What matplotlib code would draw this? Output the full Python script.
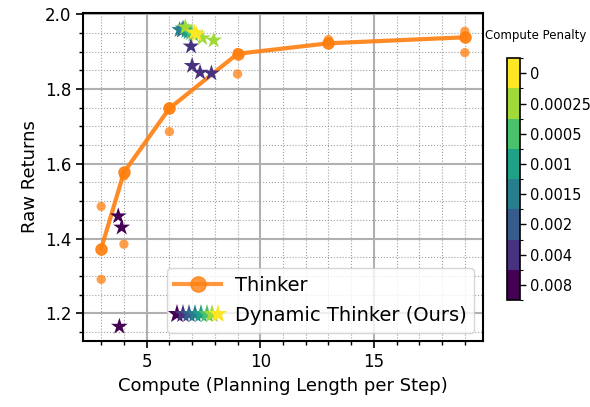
import matplotlib.pyplot as plt
import numpy as np
from matplotlib.colors import BoundaryNorm, ListedColormap
from matplotlib.lines import Line2D
from matplotlib.legend_handler import HandlerTuple
from matplotlib.ticker import MultipleLocator

# Thinker: mean curve over seeds, plus the individual seed runs
thinker_x = [3, 4, 6, 9, 13, 19]
thinker_mean = [1.373, 1.577, 1.748, 1.894, 1.922, 1.938]
seed_x = [3, 3, 4, 4, 6, 6, 9, 9, 13, 13, 19, 19, 19]
seed_y = [1.486, 1.291, 1.385, 1.567, 1.686, 1.752, 1.840, 1.897, 1.932, 1.925, 1.954, 1.897, 1.940]

# Dynamic Thinker runs, one star per (penalty, seed)
penalty_labels = ["0.008", "0.004", "0.002", "0.0015", "0.001", "0.0005", "0.00025", "0"]
dyn_x = [3.8, 3.75, 3.9,
         6.95, 7.0, 7.35, 7.85,
         6.55,
         6.45, 6.6,
         6.75, 6.85,
         6.95, 7.05,
         6.7, 7.45, 7.95,
         7.1, 7.2]
dyn_y = [1.165, 1.460, 1.430,
         1.914, 1.862, 1.844, 1.842,
         1.956,
         1.958, 1.962,
         1.955, 1.952,
         1.950, 1.946,
         1.965, 1.936, 1.930,
         1.951, 1.946]
dyn_pen = [0, 0, 0,
           1, 1, 1, 1,
           2,
           3, 3,
           4, 4,
           5, 5,
           6, 6, 6,
           7, 7]

cmap = ListedColormap(plt.get_cmap("viridis")(np.linspace(0, 1, 8)))
norm = BoundaryNorm(np.arange(-0.5, 8.5, 1), cmap.N)

fig = plt.figure(figsize=(5.9, 4.07), dpi=100)
ax = fig.add_axes([0.1407, 0.161, 0.678, 0.808])

orange = "#ff7f0e"
ax.plot(thinker_x, thinker_mean, color=orange, lw=3, marker="o", ms=8, alpha=0.9, zorder=3)
ax.scatter(seed_x, seed_y, color=orange, s=45, alpha=0.75, edgecolors="none", zorder=3)
ax.scatter(dyn_x, dyn_y, c=dyn_pen, cmap=cmap, norm=norm, marker="*", s=160,
           edgecolors="none", zorder=4)

ax.set_xlim(2.2, 19.8)
ax.set_ylim(1.125, 2.004)
ax.set_xticks([5, 10, 15])
ax.set_yticks([1.2, 1.4, 1.6, 1.8, 2.0])
ax.xaxis.set_minor_locator(MultipleLocator(1))
ax.yaxis.set_minor_locator(MultipleLocator(0.05))
ax.grid(True, which="major", color="#b0b0b0", lw=1.5)
ax.grid(True, which="minor", color="#a0a0a0", lw=0.8, ls=":")
ax.set_axisbelow(True)
for s in ax.spines.values():
    s.set_linewidth(1.5)
ax.tick_params(which="major", labelsize=12, width=1.2, length=5)
ax.tick_params(which="minor", width=1, length=3)
ax.set_xlabel("Compute (Planning Length per Step)", fontsize=13)
ax.set_ylabel("Raw Returns", fontsize=13)

# legend with a row of stars in every penalty colour
star_handles = tuple(
    Line2D([], [], ls="none", marker="*", ms=14, color=cmap(i), markeredgewidth=0)
    for i in range(8)
)
line_handle = Line2D([], [], color=orange, lw=3, marker="o", ms=11, alpha=0.8)
ax.legend([line_handle, star_handles], ["Thinker", "Dynamic Thinker (Ours)"],
          handler_map={tuple: HandlerTuple(ndivide=None, pad=0)},
          loc="lower right", fontsize=14, handlelength=2.4, borderaxespad=0.45,
          labelspacing=0.55, handletextpad=0.7, borderpad=0.4, framealpha=0.8)

cax = fig.add_axes([0.859, 0.263, 0.022, 0.594])
sm = plt.cm.ScalarMappable(cmap=cmap, norm=norm)
cb = fig.colorbar(sm, cax=cax, ticks=range(8))
cb.ax.set_yticklabels(penalty_labels)
cb.ax.tick_params(labelsize=10.5, width=1, length=4)
cb.ax.yaxis.set_minor_locator(MultipleLocator(1, offset=0.5))
cb.ax.tick_params(which="minor", length=2.5, width=0.8)
cb.outline.set_linewidth(1.2)
fig.text(0.908, 0.912, "Compute Penalty", ha="center", va="center", fontsize=8.5)

fig.savefig("out.png", dpi=100)
